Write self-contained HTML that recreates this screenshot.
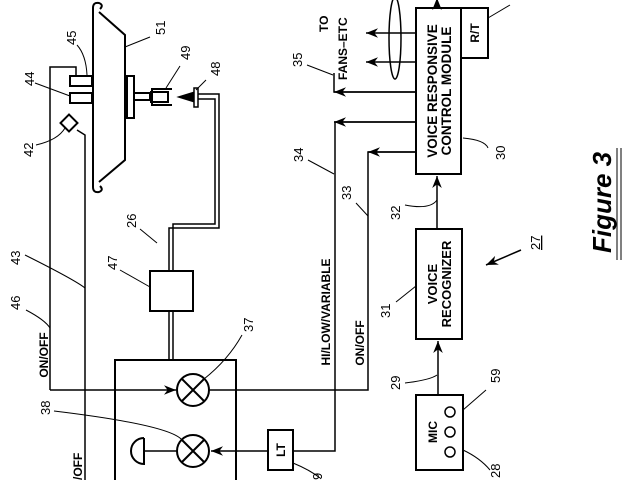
<!DOCTYPE html>
<html><head><meta charset="utf-8"><style>
html,body{margin:0;padding:0;background:#fff;width:640px;height:480px;overflow:hidden}
svg{display:block}
text{font-family:"Liberation Sans",sans-serif;fill:#000}
.b{font-weight:bold;font-size:12px}
.n{font-size:13px}
</style></head><body>
<svg width="640" height="480" viewBox="0 0 640 480" xmlns="http://www.w3.org/2000/svg">
<defs>
<marker id="a" viewBox="0 0 10 10" refX="10" refY="5" markerWidth="8" markerHeight="8" orient="auto"><path d="M0,1 L10,5 L0,9 L3,5z" fill="#000"/></marker>
</defs>
<g fill="none" stroke="#000" stroke-width="2">
<path d="M93,8 L93,187" />
<path d="M93,8 Q93,2 99,3 Q104,5 100,9 M93,187 Q93,193 99,192 Q104,190 100,186"/>
<path d="M99,12 L125,35 L125,160 L99,182"/>
<rect x="127" y="76" width="7" height="42"/>
<rect x="134" y="93" width="16" height="7"/>
<path d="M172,89 L152,89 L152,105 L172,105 M150,92 L168,92 L168,102 L150,102"/>
<path d="M178,97 L194,92 L194,102 Z" fill="#000" stroke-width="1"/>
<rect x="194" y="88" width="4" height="19" stroke-width="1.5"/>
<path d="M198,94 L219,94 L219,228 L169,228 L169,271" stroke-width="1.5"/>
<path d="M198,99 L215,99 L215,224 L173,224 L173,271" stroke-width="1.5"/>
<rect x="150" y="271" width="43" height="40"/>
<path d="M169,311 L169,360 M173,311 L173,360" stroke-width="1.5"/>
<rect x="70" y="76" width="22" height="10"/>
<rect x="70" y="93" width="22" height="10"/>
<path d="M50,390 L50,67 L76,67 L76,76" stroke-width="1.5"/>
<rect x="63" y="117" width="12" height="12" transform="rotate(45 69 123)"/>
<path d="M77,130 L85,135 L85,480" stroke-width="1.5"/>
<path d="M115,480 L115,360 L236,360 L236,480"/>
<circle cx="193" cy="390" r="16"/>
<path d="M182,379 L204,401 M204,379 L182,401"/>
<circle cx="193" cy="451" r="16"/>
<path d="M182,440 L204,462 M204,440 L182,462"/>
<path d="M144,438 L144,464 A13,13 0 0 1 144,438" />
<path d="M144,451 L177,451" stroke-width="1.5"/>
<path d="M50,390 L176,390" stroke-width="1.5" marker-end="url(#a)"/>
<path d="M268,451 L211,451" stroke-width="1.5" marker-end="url(#a)"/>
<rect x="268" y="430" width="25" height="40"/>
<path d="M293,451 L335,451 L335,122 L416,122" stroke-width="1.5"/>
<path d="M416,122 L334,122" stroke-width="1.5" marker-end="url(#a)"/>
<path d="M209,390 L368,390 L368,152 L416,152" stroke-width="1.5"/>
<path d="M416,152 L368,152" stroke-width="1.5" marker-end="url(#a)"/>
<path d="M416,92 L334,92 L334,73" stroke-width="1.5"/>
<path d="M416,92 L334,92" stroke-width="1.5" marker-end="url(#a)"/>
<path d="M416,33 L366,33" stroke-width="1.5" marker-end="url(#a)"/>
<path d="M416,62 L366,62" stroke-width="1.5" marker-end="url(#a)"/>
<ellipse cx="395" cy="38" rx="6" ry="41" stroke-width="1.5"/>
<path d="M437,8 L437,-2" stroke-width="1.5" marker-end="url(#a)"/>
<rect x="416" y="8" width="45" height="166"/>
<rect x="461" y="8" width="27" height="50"/>
<path d="M437,229 L437,176" stroke-width="1.5" marker-end="url(#a)"/>
<rect x="416" y="229" width="46" height="110"/>
<path d="M438,395 L438,341" stroke-width="1.5" marker-end="url(#a)"/>
<rect x="416" y="395" width="47" height="75"/>
<circle cx="450" cy="412" r="5" stroke-width="1.5"/>
<circle cx="450" cy="432" r="5" stroke-width="1.5"/>
<circle cx="450" cy="452" r="5" stroke-width="1.5"/>
<path d="M521,250 L486,265" stroke-width="1.5" marker-end="url(#a)"/>
<path d="M617,148 L617,260 M621,148 L621,260" stroke-width="1"/>
</g>
<g fill="none" stroke="#000" stroke-width="1">
<path d="M77,45 Q86,55 87,75"/><path d="M125,47 L150,37"/><path d="M35,83 L70,96"/>
<path d="M166,88 L180,66"/><path d="M196,90 L206,80"/><path d="M36,145 Q58,140 65,128"/>
<path d="M140,229 L157,243"/><path d="M25,255 Q75,280 85,288"/><path d="M120,270 L150,287"/>
<path d="M26,310 Q45,320 50,328"/><path d="M242,335 Q228,360 204,379"/><path d="M54,411 Q170,425 182,440"/>
<path d="M293,463 Q310,470 320,478"/><path d="M307,65 L333,75"/><path d="M308,160 L334,174"/>
<path d="M356,203 L368,216"/><path d="M405,205 Q430,210 437,200"/><path d="M463,138 Q485,140 488,148"/>
<path d="M396,302 L416,286"/><path d="M405,383 Q430,380 437,375"/><path d="M463,410 L486,390"/>
<path d="M463,450 Q480,458 490,470"/><path d="M488,18 L510,5"/>
</g>
<g class="b">
<text transform="translate(437,91) rotate(-90)" text-anchor="middle" font-size="13.5">VOICE RESPONSIVE</text>
<text transform="translate(451,91) rotate(-90)" text-anchor="middle" font-size="13.5">CONTROL MODULE</text>
<text transform="translate(479,33) rotate(-90)" text-anchor="middle">R/T</text>
<text transform="translate(437,284) rotate(-90)" text-anchor="middle" font-size="13">VOICE</text>
<text transform="translate(451,284) rotate(-90)" text-anchor="middle" font-size="13">RECOGNIZER</text>
<text transform="translate(437,432) rotate(-90)" text-anchor="middle">MIC</text>
<text transform="translate(285,450) rotate(-90)" text-anchor="middle">LT</text>
<text transform="translate(330,312) rotate(-90)" text-anchor="middle">HI/LOW/VARIABLE</text>
<text transform="translate(364,343) rotate(-90)" text-anchor="middle">ON/OFF</text>
<text transform="translate(48,355) rotate(-90)" text-anchor="middle">ON/OFF</text>
<text transform="translate(82,480) rotate(-90)">/OFF</text>
<text transform="translate(328,32) rotate(-90)">TO</text>
<text transform="translate(347,80) rotate(-90)">FANS–ETC</text>
<text transform="translate(611,253) rotate(-90)" font-size="26" font-style="italic">Figure 3</text>
</g>
<g class="n">
<text transform="translate(76,45) rotate(-90)">45</text>
<text transform="translate(165,35) rotate(-90)">51</text>
<text transform="translate(34,86) rotate(-90)">44</text>
<text transform="translate(190,60) rotate(-90)">49</text>
<text transform="translate(220,76) rotate(-90)">48</text>
<text transform="translate(33,157) rotate(-90)">42</text>
<text transform="translate(136,228) rotate(-90)">26</text>
<text transform="translate(20,265) rotate(-90)">43</text>
<text transform="translate(117,270) rotate(-90)">47</text>
<text transform="translate(20,310) rotate(-90)">46</text>
<text transform="translate(253,332) rotate(-90)">37</text>
<text transform="translate(50,415) rotate(-90)">38</text>
<text transform="translate(302,67) rotate(-90)">35</text>
<text transform="translate(303,162) rotate(-90)">34</text>
<text transform="translate(351,200) rotate(-90)">33</text>
<text transform="translate(400,220) rotate(-90)">32</text>
<text transform="translate(505,160) rotate(-90)">30</text>
<text transform="translate(390,318) rotate(-90)">31</text>
<text transform="translate(400,390) rotate(-90)">29</text>
<text transform="translate(500,383) rotate(-90)">59</text>
<text transform="translate(500,478) rotate(-90)">28</text>
<text transform="translate(540,250) rotate(-90)" text-decoration="underline">27</text>
<text transform="translate(322,480) rotate(-90)">9</text>
</g>
</svg>
</body></html>
